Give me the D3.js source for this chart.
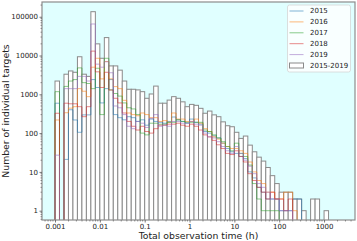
<!DOCTYPE html>
<html>
<head>
<meta charset="utf-8">
<script src="https://cdn.jsdelivr.net/npm/d3@7"></script>
<style>
body { margin: 0; background: #fff; }
svg { display: block; font-family: "DejaVu Sans", sans-serif; }
</style>
</head>
<body>
<svg id="chart" width="357" height="241"></svg>
<script>

// series names, colours and axis ticks
var years = ["2015", "2016", "2017", "2018", "2019"];
var yearColors = ["#1f77b4", "#ff7f0e", "#2ca02c", "#d62728", "#9467bd"];
var totalLabel = "2015-2019";
var xTicks = [0.001, 0.01, 0.1, 1, 10, 100, 1000];
var yTicks = [1, 10, 100, 1000, 10000, 100000];

// histogram bins: 10 per decade, starting at 0.001 h
var binStart = 0.001, binsPerDecade = 10;

// counts per bin
var totalCounts = [2200, 0, 3300, 4000, 3700, 9300, 3300, 2900, 135000, 20000,
  8500, 29000, 5400, 5400, 4200, 2200, 1350, 1350, 1300, 1170,
  790, 1020, 1630, 590, 590, 710, 870, 790, 640, 480,
  550, 520, 435, 325, 370, 295, 265, 195, 155, 146,
  105, 73, 84, 49, 33, 24, 19, 13, 8, 5,
  3, 3, 3, 2, 2, 1, 0, 2, 2, 0, 1];
var counts2015 = [590, 0, 21, 400, 218, 105, 295, 295, 2400, 1500,
  600, 1400, 2400, 300, 250, 220, 265, 250, 200, 220,
  160, 230, 200, 190, 180, 200, 260, 220, 200, 180,
  230, 190, 170, 110, 100, 85, 75, 55, 40, 33,
  30, 25, 22, 10, 7, 4, 3, 2, 2, 2,
  1, 1, 1, 2, 2, 0, 0, 0, 0, 0, 0];
var counts2016 = [218, 0, 335, 440, 480, 1400, 1200, 870, 5000, 8500,
  2500, 7000, 2500, 1580, 1400, 700, 330, 300, 280, 330,
  300, 250, 250, 200, 210, 190, 330, 230, 230, 200,
  200, 230, 180, 130, 110, 80, 70, 55, 45, 40,
  40, 35, 30, 18, 10, 6, 5, 3, 3, 2,
  2, 3, 3, 1, 0, 0, 0, 0, 0, 0, 0];
var counts2017 = [1170, 0, 1600, 2200, 2400, 4800, 2000, 1900, 1400, 4700,
  300, 8500, 1300, 1050, 900, 600, 450, 420, 300, 100,
  90, 180, 180, 170, 170, 190, 190, 220, 200, 190,
  190, 190, 190, 120, 110, 90, 75, 60, 45, 35,
  55, 30, 25, 15, 5, 2, 1, 1, 1, 1,
  0, 0, 0, 0, 0, 0, 0, 0, 0, 0, 0];
var counts2018 = [325, 0, 590, 570, 570, 480, 265, 480, 13000, 3800,
  1500, 3700, 1290, 790, 600, 330, 200, 150, 120, 150,
  110, 100, 130, 160, 160, 170, 170, 180, 160, 150,
  170, 150, 120, 90, 80, 65, 50, 40, 30, 28,
  35, 25, 18, 9, 6, 4, 3, 2, 3, 2,
  2, 1, 2, 0, 0, 0, 0, 0, 0, 0, 0];
var counts2019 = [27, 0, 1400, 1400, 1400, 2900, 2900, 2200, 65000, 6000,
  5000, 6900, 3600, 500, 450, 300, 150, 130, 200, 180,
  140, 240, 300, 150, 160, 150, 200, 200, 180, 180,
  200, 170, 160, 100, 80, 75, 60, 45, 35, 30,
  45, 30, 20, 14, 9, 5, 4, 3, 2, 2,
  1, 1, 1, 0, 0, 0, 0, 0, 0, 0, 0];
var yearCounts = [counts2015, counts2016, counts2017, counts2018, counts2019];

var svg = d3.select("#chart"),
  margin = {top: 2, right: 2, bottom: 21, left: 42},
  width = +svg.attr("width") - margin.left - margin.right,
  height = +svg.attr("height") - margin.top - margin.bottom;

var x = d3.scaleLog().domain([Math.pow(10, -3.29), Math.pow(10, 3.69)]).range([0, width]),
  y = d3.scaleLog().domain([Math.pow(10, -0.24), Math.pow(10, 5.38)]).range([height, 0]);

// bin edges
var edges = d3.range(totalCounts.length + 1).map(function(k) {
  return binStart * Math.pow(10, k / binsPerDecade);
});

var g = svg.append("g")
  .attr("transform", "translate(" + margin.left + "," + margin.top + ")");

// light cyan plot background
g.append("rect")
  .attr("width", width).attr("height", height)
  .attr("fill", "#e0ffff");

svg.append("clipPath").attr("id", "clip")
  .append("rect").attr("width", width).attr("height", height);

var plot = g.append("g").attr("clip-path", "url(#clip)");

// total bars (empty bins are skipped)
var barData = totalCounts.map(function(d, i) { return {i: i, n: d}; })
  .filter(function(d) { return d.n > 0; });

plot.selectAll(".bar")
  .data(barData)
  .enter().append("rect")
  .attr("class", "bar")
  .attr("x", function(d) { return x(edges[d.i]); })
  .attr("y", function(d) { return y(d.n); })
  .attr("width", function(d) { return x(edges[d.i + 1]) - x(edges[d.i]); })
  .attr("height", function(d) { return height + 2 - y(d.n); })
  .attr("fill", "#fff")
  .attr("stroke", "#8a8a8a")
  .attr("stroke-width", 1);

// year step outlines
function yv(v) { return v > 0 ? y(v) : height + 3; }

yearCounts.forEach(function(counts, s) {
  var pts = [[x(edges[0]), height + 3]];
  counts.forEach(function(v, i) {
    pts.push([x(edges[i]), yv(v)]);
    pts.push([x(edges[i + 1]), yv(v)]);
  });
  pts.push([x(edges[counts.length]), height + 3]);
  plot.append("path")
    .attr("d", d3.line()(pts))
    .attr("fill", "none")
    .attr("stroke", yearColors[s])
    .attr("stroke-opacity", 0.55)
    .attr("stroke-width", 1);
});

// frame
g.append("rect")
  .attr("width", width).attr("height", height)
  .attr("fill", "none").attr("stroke", "#8c8c8c").attr("stroke-width", 1.2);

// axes
var xAxis = g.append("g")
  .attr("class", "axis axis--x")
  .attr("transform", "translate(0," + height + ")")
  .call(d3.axisBottom(x).tickValues(xTicks).tickSize(2.5).tickPadding(2)
    .tickFormat(function(d) { return String(d); }));

var yAxis = g.append("g")
  .attr("class", "axis axis--y")
  .call(d3.axisLeft(y).tickValues(yTicks).tickSize(2.5).tickPadding(1.5)
    .tickFormat(function(d) { return String(d); }));

[xAxis, yAxis].forEach(function(a) {
  a.select(".domain").remove();
  a.selectAll(".tick line").attr("stroke", "#555").attr("stroke-width", 0.8);
  a.selectAll("text").attr("font-size", 7).attr("fill", "#222")
    .attr("font-family", "DejaVu Sans, sans-serif");
});

// minor ticks
var xMinor = [], yMinor = [];
xTicks.concat([0.0001]).forEach(function(t) {
  d3.range(2, 10).forEach(function(m) {
    var v = t * m;
    if (v > x.domain()[0] && v < x.domain()[1]) xMinor.push(v);
  });
});
yTicks.concat([0.1]).forEach(function(t) {
  d3.range(2, 10).forEach(function(m) {
    var v = t * m;
    if (v > y.domain()[0] && v < y.domain()[1]) yMinor.push(v);
  });
});
g.selectAll(".xminor").data(xMinor).enter().append("line")
  .attr("x1", function(d) { return x(d); }).attr("x2", function(d) { return x(d); })
  .attr("y1", height).attr("y2", height + 1.5)
  .attr("stroke", "#555").attr("stroke-width", 0.6);
g.selectAll(".yminor").data(yMinor).enter().append("line")
  .attr("y1", function(d) { return y(d); }).attr("y2", function(d) { return y(d); })
  .attr("x1", 0).attr("x2", -1.5)
  .attr("stroke", "#555").attr("stroke-width", 0.6);

// axis titles
svg.append("text")
  .attr("x", margin.left + width / 2).attr("y", 239)
  .attr("text-anchor", "middle")
  .attr("font-size", 9.3).attr("fill", "#222")
  .text("Total observation time (h)");

svg.append("text")
  .attr("transform", "translate(8.5," + (margin.top + height / 2) + ") rotate(-90)")
  .attr("text-anchor", "middle")
  .attr("font-size", 9.3).attr("fill", "#222")
  .text("Number of individual targets");

// legend
var legend = svg.append("g").attr("transform", "translate(287.5,5)");
legend.append("rect")
  .attr("width", 63).attr("height", 67).attr("rx", 2)
  .attr("fill", "#fff").attr("fill-opacity", 0.8)
  .attr("stroke", "#d6d6d6").attr("stroke-width", 0.8);

years.forEach(function(yr, i) {
  var cy = 6 + i * 10.9;
  legend.append("line")
    .attr("x1", 2).attr("x2", 16).attr("y1", cy).attr("y2", cy)
    .attr("stroke", yearColors[i]).attr("stroke-opacity", 0.55).attr("stroke-width", 1);
  legend.append("text")
    .attr("x", 22.5).attr("y", cy).attr("dy", "0.35em")
    .attr("font-size", 7).attr("fill", "#222")
    .text(yr);
});
var ty = 6 + 5 * 10.9;
legend.append("rect")
  .attr("x", 2).attr("y", ty - 2.5).attr("width", 14).attr("height", 5)
  .attr("fill", "#fff").attr("stroke", "#8a8a8a").attr("stroke-width", 1);
legend.append("text")
  .attr("x", 22.5).attr("y", ty).attr("dy", "0.35em")
  .attr("font-size", 7).attr("fill", "#222")
  .text(totalLabel);

</script>
</body>
</html>
